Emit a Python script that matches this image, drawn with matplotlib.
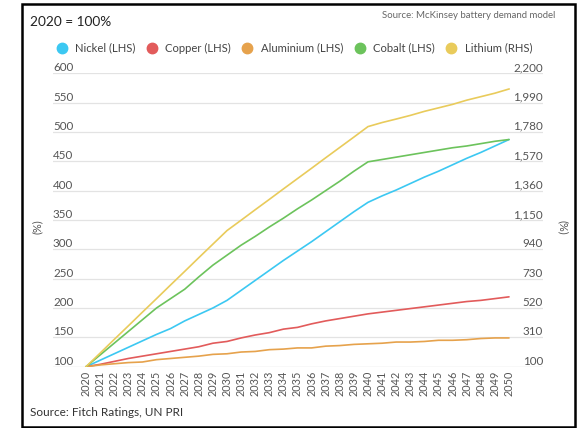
import matplotlib
matplotlib.use("Agg")
import matplotlib.pyplot as plt
from matplotlib.lines import Line2D
from matplotlib.patches import Rectangle

plt.rcParams['font.family'] = ['Lato', 'DejaVu Sans']

years = list(range(2020, 2051))

# left hand scale (2020 = 100)
nickel = [100, 111, 122, 133, 144, 155, 165, 178, 189, 200, 213,
          230, 247, 264, 281, 297, 313, 330, 347, 364, 380,
          391, 401, 412, 423, 433, 444, 455, 465, 476, 487]
copper = [100, 104, 109, 114, 118, 122, 126, 130, 134, 140, 143,
          149, 154, 158, 164, 167, 173, 178, 182, 186, 190,
          193, 196, 199, 202, 205, 208, 211, 213, 216, 219]
aluminium = [100, 103, 105, 107, 108, 112, 114, 116, 118, 121, 122,
             125, 126, 129, 130, 132, 132, 135, 136, 138, 139,
             140, 142, 142, 143, 145, 145, 146, 148, 149, 149]
cobalt = [100, 120, 140, 160, 180, 200, 216, 232, 253, 273, 290,
          307, 322, 338, 353, 369, 384, 400, 416, 433, 449,
          453, 457, 461, 465, 469, 473, 476, 480, 484, 487]
# right hand scale
lithium = [100, 197, 295, 392, 490, 587, 685, 782, 880, 977, 1074,
           1148, 1223, 1297, 1372, 1446, 1520, 1595, 1669, 1743, 1818,
           1847, 1872, 1898, 1927, 1952, 1977, 2007, 2032, 2057, 2087]

left_ticks = [100, 150, 200, 250, 300, 350, 400, 450, 500, 550, 600]
right_ticks = [100, 310, 520, 730, 940, 1150, 1360, 1570, 1780, 1990, 2200]

names = ['Nickel (LHS)', 'Copper (LHS)', 'Aluminium (LHS)', 'Cobalt (LHS)', 'Lithium (RHS)']
colors = ['#3cc8f2', '#e25b5b', '#e6a24c', '#6cc35c', '#e9cb5b']

W, H = 582, 428
fig = plt.figure(figsize=(W / 100, H / 100), dpi=100)
ax = fig.add_axes([53 / W, 1 - 366.7 / H, 490 / W, 293.5 / H])
ax2 = ax.twinx()

for series, c in zip([nickel, copper, aluminium, cobalt], colors[:4]):
    ax.plot(years, series, color=c, lw=1.2, solid_capstyle='round')
ax2.plot(years, lithium, color=colors[4], lw=1.2)

x_pad_l = (86 - 53) / 14.1
x_pad_r = (543 - 509) / 14.1
ax.set_xlim(2020 - x_pad_l, 2050 + x_pad_r)
ax.set_ylim(100, 600)
ax2.set_ylim(100, 2200)

for a in (ax, ax2):
    for s in a.spines.values():
        s.set_visible(False)
    a.set_yticks([])
ax.set_xticks(years)
ax.set_xticklabels([str(y) for y in years], rotation=90, fontsize=7.8, color='#555555')
ax.tick_params(axis='x', length=0, pad=3)

for v in left_ticks:
    ax.axhline(v, color='#cccccc' if v == 100 else '#e3e3e3', lw=0.9, zorder=0)
    ax.text(0.0, v, f'{v}', transform=ax.get_yaxis_transform(), ha='left', va='bottom',
            fontsize=8.4, color='#555555')
for v in right_ticks:
    ax2.text(1.0, v, f'{v:,}', transform=ax2.get_yaxis_transform(), ha='right', va='bottom',
             fontsize=8.4, color='#555555')

fig.text(37 / W, 1 - 227 / H, '(%)', rotation=90, ha='center', va='center', fontsize=7.8, color='#555555')
fig.text(563 / W, 1 - 227 / H, '(%)', rotation=270, ha='center', va='center', fontsize=7.8, color='#555555')

fig.text(30 / W, 1 - 22 / H, '2020 = 100%', ha='left', va='center', fontsize=9.8, color='#222222')
fig.text(555 / W, 1 - 15 / H, 'Source: McKinsey battery demand model', ha='right', va='center',
         fontsize=6.9, color='#666666')
fig.text(30 / W, 1 - 412 / H, 'Source: Fitch Ratings, UN PRI', ha='left', va='center',
         fontsize=8.5, color='#333333')

handles = [Line2D([], [], ls='none', marker='o', ms=7.5, mfc=c, mec=c) for c in colors]
fig.legend(handles, names, loc='center left', bbox_to_anchor=(56 / W, 1 - 48 / H), ncol=5,
           frameon=False, fontsize=8.1, labelcolor='#444444', handletextpad=0.7,
           columnspacing=0.95, handlelength=1.0, borderaxespad=0, borderpad=0)

fig.patches.append(Rectangle((22 / W, 1 - 427 / H), 553 / W, 423 / H, transform=fig.transFigure,
                             fill=False, ec='black', lw=1.8))

fig.savefig('out.png', dpi=100)
